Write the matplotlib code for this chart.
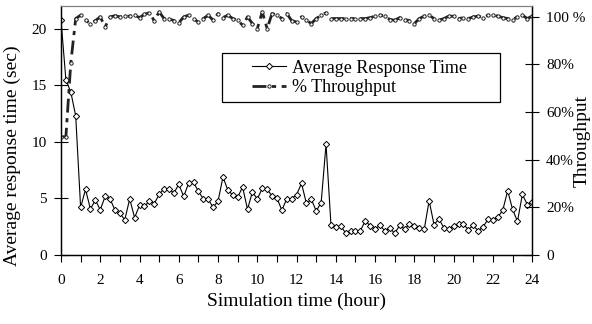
import numpy as np
import matplotlib
matplotlib.use('Agg')
import matplotlib.pyplot as plt
from matplotlib.ticker import MultipleLocator
from matplotlib.patches import Rectangle

plt.rcParams['font.family'] = ['Liberation Serif', 'DejaVu Serif']

# data, one sample every 15 minutes
hours = np.arange(97) * 0.25

resp_time = [20.8, 15.5, 14.4, 12.3, 4.2, 5.8, 4.06, 4.86, 4.0, 5.18,
             4.95, 3.97, 3.68, 3.12, 4.95, 3.3, 4.39, 4.3, 4.74, 4.53,
             5.36, 5.86, 5.8, 5.48, 6.24, 5.18, 6.33, 6.42, 5.62, 4.97,
             4.92, 4.2, 4.77, 6.89, 5.74, 5.3, 5.12, 6.0, 4.04, 5.57,
             4.95, 5.89, 5.8, 5.21, 5.04, 3.95, 4.98, 4.98, 5.33, 6.33,
             4.56, 4.92, 3.89, 4.62, 9.78, 2.68, 2.5, 2.56, 1.94, 2.15,
             2.15, 2.15, 3.03, 2.56, 2.3, 2.62, 2.12, 2.38, 1.91, 2.62,
             2.3, 2.71, 2.56, 2.35, 2.27, 4.8, 2.68, 3.18, 2.41, 2.3,
             2.56, 2.71, 2.71, 2.24, 2.62, 2.12, 2.5, 3.15, 3.06, 3.36,
             3.95, 5.68, 4.03, 2.97, 5.36, 4.45, 4.68]

throughput = [49.6, 49.6, 80.6, 99.2, 100.6, 98.5, 97.1, 98.3, 99.9, 95.7,
              99.9, 100.4, 99.9, 100.2, 100.2, 100.6, 99.6, 101.0, 101.6, 98.3,
              102.0, 99.2, 99.2, 98.3, 97.4, 99.9, 100.6, 99.2, 97.6, 99.2,
              100.6, 98.5, 101.3, 99.6, 100.6, 99.2, 98.5, 96.4, 99.9, 97.1,
              95.0, 102.0, 95.0, 101.3, 100.6, 99.2, 101.3, 98.3, 97.8, 99.9,
              98.5, 97.1, 99.2, 100.6, 101.6, 99.2, 99.2, 99.2, 99.2, 99.2,
              99.2, 99.2, 99.2, 99.6, 100.2, 100.6, 100.2, 98.8, 98.5, 99.6,
              98.8, 98.3, 97.1, 99.2, 100.2, 100.6, 99.2, 98.5, 99.2, 100.2,
              100.2, 99.2, 99.6, 99.2, 99.9, 100.2, 99.6, 100.6, 100.6, 100.2,
              99.6, 99.2, 98.8, 99.9, 100.6, 99.2, 100.2]

x_ticks = list(range(0, 25, 2))
left_ticks = [0, 5, 10, 15, 20]
right_ticks = [0, 20, 40, 60, 80, 100]
right_labels = ['0', '20%', '40%', '60%', '80%', '100 %']

fig = plt.figure(figsize=(5.92, 3.24), dpi=100)
ax = fig.add_axes([0.103, 0.213, 0.796, 0.768])
ax2 = ax.twinx()

l1, = ax.plot(hours, resp_time, color='black', lw=0.8, marker='D',
              markersize=3.2, markerfacecolor='white', markeredgecolor='black',
              markeredgewidth=0.7, label='Average Response Time')
l2, = ax2.plot(hours, throughput, color='#222222', lw=2.0,
               linestyle=(0, (5, 2, 1.5, 2)), marker='o', markersize=2.4,
               markerfacecolor='white', markeredgecolor='#222222',
               markeredgewidth=0.7, label='% Throughput')

ax.set_xlim(0, 24)
ax.set_ylim(0, 22)
ax2.set_ylim(0, 104.4)

ax.set_xticks(x_ticks)
ax.xaxis.set_minor_locator(MultipleLocator(1))
ax.set_yticks(left_ticks)
ax2.set_yticks(right_ticks)
ax2.set_yticklabels(right_labels)

ax.tick_params(axis='x', which='both', direction='out', length=5, width=0.8,
               labelsize=11, pad=9)
ax.tick_params(axis='y', direction='inout', length=10, width=0.8, labelsize=11,
               pad=5)
ax2.tick_params(axis='y', direction='inout', length=10, width=0.8, labelsize=11,
                pad=5)

ax.set_xlabel('Simulation time (hour)', fontsize=14, labelpad=4)
ax.set_ylabel('Average response time (sec)', fontsize=14)
ax.yaxis.set_label_coords(-0.085, 0.40)
ax2.set_ylabel('Throughput', fontsize=14)
ax2.yaxis.set_label_coords(1.088, 0.46)

for a in (ax, ax2):
    a.spines['top'].set_color('#808080')
    for s in ('left', 'right', 'bottom'):
        a.spines[s].set_linewidth(0.9)

# legend box drawn separately: the reference frame is much wider than its text
ax2.add_patch(Rectangle((0.342, 0.614), 0.59, 0.197, transform=ax2.transAxes,
                        facecolor='white', edgecolor='black', lw=0.9,
                        zorder=4))
leg = ax2.legend(handles=[l1, l2], loc='upper left',
                 bbox_to_anchor=(0.405, 0.785), fontsize=13, frameon=False,
                 handlelength=1.9, handletextpad=0.3, labelspacing=0.15,
                 borderpad=0.0, borderaxespad=0)
leg.set_zorder(5)

plt.savefig('out.png', dpi=100)
